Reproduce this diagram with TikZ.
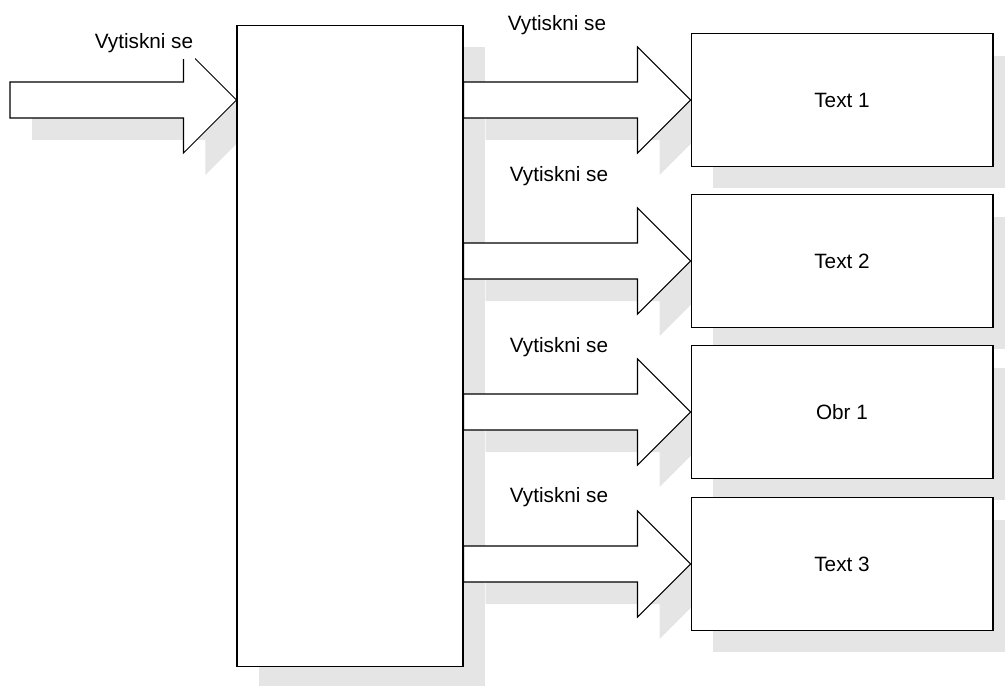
\documentclass[tikz,border=0pt]{standalone}
\usepackage{fontspec}
\setmainfont{Liberation Sans}
\usetikzlibrary{calc,backgrounds,shadows}
\definecolor{stin}{HTML}{E5E5E5}
\tikzset{
  pismo/.style={font=\fontsize{11.8}{14}\selectfont},
  okno/.style={draw=black, fill=white, line width=0.6pt, pismo,
    general shadow={fill=stin, shadow xshift=0.44cm, shadow yshift=-0.44cm}},
  popis/.style={anchor=base, fill=white, inner xsep=1pt, inner ysep=3.2pt, pismo},
  sipka/.style={draw=black, fill=white, line width=0.6pt}
}
% tlusta sipka: [posun stinu]{odkud}{hrot}{styl}
\newcommand{\tlustasipka}[4][0]{%
  \path[#4] ($(#2)+(#1,-18+#1)$) -- ($(#3)+(-53+#1,-18+#1)$) -- ($(#3)+(-53+#1,-53+#1)$)
    -- ($(#3)+(#1,#1)$) -- ($(#3)+(-53+#1,53+#1)$) -- ($(#3)+(-53+#1,18+#1)$)
    -- ($(#2)+(#1,18+#1)$) -- cycle;}

\begin{document}
\begin{tikzpicture}[x=0.02cm, y=-0.02cm]
\useasboundingbox (0,0) rectangle (1005,686);
% bloky
\node[okno, minimum width=4.52cm, minimum height=12.84cm] (hlavni) at (350,346) {};
\node[okno, minimum width=6.04cm, minimum height=2.66cm] (t1) at (842,100) {Text 1};
\node[okno, minimum width=6.04cm, minimum height=2.66cm] (t2) at (842,261) {Text 2};
\node[okno, minimum width=6.04cm, minimum height=2.66cm] (o1) at (842,412) {Obr 1};
\node[okno, minimum width=6.04cm, minimum height=2.66cm] (t3) at (842,564) {Text 3};
\coordinate (vstup) at (10,100);
% stiny sipek
\begin{scope}[on background layer]
\tlustasipka[22]{vstup}{hlavni.west |- vstup}{fill=stin}
\foreach \b in {t1,t2,o1,t3}
  \tlustasipka[22]{hlavni.east |- \b.west}{\b.west}{fill=stin};
\end{scope}
% sipky
\tlustasipka{vstup}{hlavni.west |- vstup}{sipka}
\foreach \b in {t1,t2,o1,t3}
  \tlustasipka{hlavni.east |- \b.west}{\b.west}{sipka};
% popisky
\node[popis] (p0) at (144,49) {Vytiskni se};
\node[popis] (p1) at (557,31) {Vytiskni se};
\node[popis] (p2) at (559,182) {Vytiskni se};
\node[popis] (p3) at (559,352) {Vytiskni se};
\node[popis] (p4) at (559,502) {Vytiskni se};
\end{tikzpicture}
\end{document}
